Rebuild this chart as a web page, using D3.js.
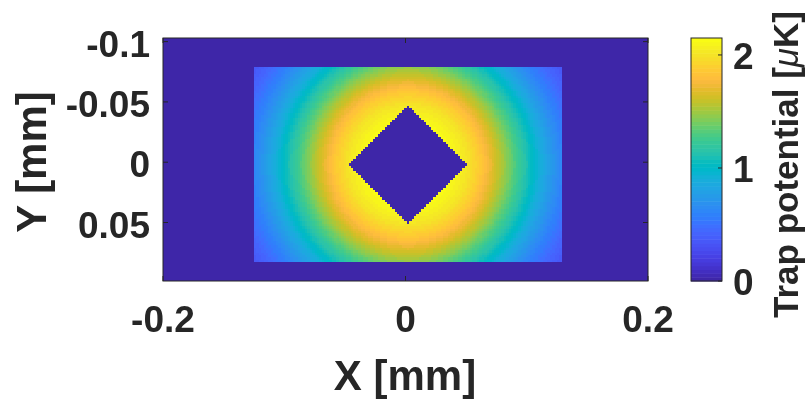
<!DOCTYPE html>
<html>
<head>
<meta charset="utf-8">
<script src="https://cdn.jsdelivr.net/npm/d3@7"></script>
<style>
  html, body { margin: 0; padding: 0; background: #ffffff; }
  #chart { position: relative; width: 805px; height: 401px; overflow: hidden; }
  #chart canvas, #chart svg { position: absolute; left: 0; top: 0; }
  svg text { font-family: "Liberation Sans", Arial, Helvetica, sans-serif; font-weight: bold; fill: #262626; }
</style>
</head>
<body>
<div id="chart"></div>
<script>
// Axis ticks and labels
const xTicks = [-0.2, 0, 0.2];
const xTickLabels = ["-0.2", "0", "0.2"];
const yTicks = [-0.1, -0.05, 0, 0.05];
const yTickLabels = ["-0.1", "-0.05", "0", "0.05"];
const cTicks = [0, 1, 2];
const cTickLabels = ["0", "1", "2"];

// Axis limits (mm) and colour limits (µK)
const xLimits = [-0.2, 0.2];
const yLimits = [-0.103, 0.0985];
const cLimits = [0, 2.15];

// Trap geometry (mm)
const trapCenter = [0.002, 0.002];
const windowX = [-0.1255, 0.1295];
const windowY = [-0.0795, 0.083];
const holeHalfDiagonal = 0.0488;
const gridStep = 0.002;

// Radial potential profile: distance from trap centre (mm) -> potential (µK)
const profileRadius = [0, 0.03, 0.04, 0.05, 0.06, 0.07, 0.08, 0.09, 0.10, 0.11, 0.12, 0.13, 0.14, 0.15, 0.16];
const profileValue  = [2.35, 2.17, 2.10, 2.00, 1.86, 1.68, 1.48, 1.27, 1.07, 0.88, 0.71, 0.56, 0.44, 0.34, 0.26];

// parula colormap, 64 entries
const parula = [
[0.2422,0.1504,0.6603],[0.2504,0.1650,0.7076],[0.2578,0.1818,0.7511],[0.2647,0.1978,0.7952],
[0.2706,0.2147,0.8364],[0.2751,0.2342,0.8710],[0.2783,0.2559,0.8991],[0.2803,0.2782,0.9221],
[0.2813,0.3006,0.9414],[0.2810,0.3228,0.9579],[0.2795,0.3447,0.9717],[0.2760,0.3667,0.9829],
[0.2699,0.3892,0.9906],[0.2602,0.4123,0.9952],[0.2440,0.4358,0.9988],[0.2206,0.4603,0.9973],
[0.1963,0.4847,0.9892],[0.1834,0.5074,0.9798],[0.1786,0.5289,0.9682],[0.1764,0.5499,0.9520],
[0.1687,0.5703,0.9359],[0.1540,0.5902,0.9218],[0.1460,0.6091,0.9079],[0.1380,0.6276,0.8973],
[0.1248,0.6459,0.8883],[0.1113,0.6635,0.8763],[0.0952,0.6798,0.8598],[0.0689,0.6948,0.8394],
[0.0297,0.7082,0.8163],[0.0036,0.7203,0.7917],[0.0067,0.7312,0.7660],[0.0433,0.7411,0.7394],
[0.0964,0.7500,0.7120],[0.1408,0.7584,0.6842],[0.1717,0.7670,0.6554],[0.1938,0.7758,0.6251],
[0.2161,0.7843,0.5923],[0.2470,0.7918,0.5567],[0.2906,0.7973,0.5188],[0.3406,0.8008,0.4789],
[0.3909,0.8029,0.4354],[0.4456,0.8024,0.3909],[0.5044,0.7993,0.3480],[0.5616,0.7942,0.3045],
[0.6174,0.7876,0.2612],[0.6720,0.7793,0.2227],[0.7242,0.7698,0.1910],[0.7738,0.7598,0.1646],
[0.8203,0.7498,0.1535],[0.8634,0.7406,0.1596],[0.9035,0.7330,0.1774],[0.9393,0.7288,0.2100],
[0.9728,0.7298,0.2394],[0.9956,0.7434,0.2371],[0.9970,0.7659,0.2199],[0.9952,0.7893,0.2028],
[0.9892,0.8136,0.1885],[0.9786,0.8386,0.1766],[0.9676,0.8639,0.1643],[0.9610,0.8890,0.1537],
[0.9597,0.9135,0.1423],[0.9628,0.9373,0.1265],[0.9691,0.9606,0.1064],[0.9769,0.9839,0.0805]
].map(c => c.map(v => Math.round(v * 255)));

const W = 805, H = 401;
const plot = { left: 163, right: 648, top: 38, bottom: 281 };
const cbar = { left: 691, right: 722 };
const ink = "#262626";

const x = d3.scaleLinear().domain(xLimits).range([plot.left, plot.right]);
const y = d3.scaleLinear().domain(yLimits).range([plot.top, plot.bottom]);
const cy = d3.scaleLinear().domain(cLimits).range([plot.bottom, plot.top]);
const potentialAt = d3.scaleLinear().domain(profileRadius).range(profileValue).clamp(true);
const colorIndex = d3.scaleQuantize().domain(cLimits).range(d3.range(parula.length));

function potential(xd, yd) {
  const dx = xd - trapCenter[0], dy = yd - trapCenter[1];
  if (xd < windowX[0] || xd > windowX[1] || yd < windowY[0] || yd > windowY[1]) return 0;
  if (Math.abs(dx) + Math.abs(dy) <= holeHalfDiagonal) return 0;
  return potentialAt(Math.hypot(dx, dy));
}
function snap(v, c) { return c + Math.round((v - c) / gridStep) * gridStep; }

const root = d3.select("#chart");
const canvas = root.append("canvas").attr("width", W).attr("height", H).node();
const ctx = canvas.getContext("2d");

// Potential map
const pw = plot.right - plot.left, ph = plot.bottom - plot.top;
const img = ctx.createImageData(pw, ph);
for (let j = 0; j < ph; j++) {
  const yd = snap(y.invert(plot.top + j + 0.5), trapCenter[1]);
  for (let i = 0; i < pw; i++) {
    const xd = snap(x.invert(plot.left + i + 0.5), trapCenter[0]);
    const c = parula[colorIndex(potential(xd, yd))];
    const k = 4 * (j * pw + i);
    img.data[k] = c[0]; img.data[k + 1] = c[1]; img.data[k + 2] = c[2]; img.data[k + 3] = 255;
  }
}
ctx.putImageData(img, plot.left, plot.top);

const svg = root.append("svg").attr("width", W).attr("height", H);

// Axes box and inward ticks
const tickLen = 5;
const axes = svg.append("g").attr("stroke", ink).attr("stroke-width", 1).attr("fill", "none");
axes.append("rect").attr("x", plot.left).attr("y", plot.top).attr("width", pw).attr("height", ph);
xTicks.forEach(t => {
  axes.append("line").attr("x1", x(t)).attr("x2", x(t)).attr("y1", plot.bottom).attr("y2", plot.bottom - tickLen);
  axes.append("line").attr("x1", x(t)).attr("x2", x(t)).attr("y1", plot.top).attr("y2", plot.top + tickLen);
});
yTicks.forEach(t => {
  axes.append("line").attr("x1", plot.left).attr("x2", plot.left + tickLen).attr("y1", y(t)).attr("y2", y(t));
  axes.append("line").attr("x1", plot.right).attr("x2", plot.right - tickLen).attr("y1", y(t)).attr("y2", y(t));
});

const tickFont = 37, labelFont = 42, cLabelFont = 35;
svg.append("g").selectAll("text").data(xTicks).join("text")
  .attr("x", d => x(d)).attr("y", 332)
  .attr("text-anchor", "middle").attr("font-size", tickFont)
  .text((d, i) => xTickLabels[i]);
svg.append("g").selectAll("text").data(yTicks).join("text")
  .attr("x", plot.left - 13).attr("y", d => y(d) + 15)
  .attr("text-anchor", "end").attr("font-size", tickFont)
  .text((d, i) => yTickLabels[i]);

svg.append("text").attr("x", 405).attr("y", 390)
  .attr("text-anchor", "middle").attr("font-size", labelFont).text("X [mm]");
svg.append("text").attr("transform", "translate(46,162) rotate(-90)")
  .attr("text-anchor", "middle").attr("font-size", labelFont).text("Y [mm]");

// Colour bar
const bands = d3.range(parula.length);
const bandH = (cLimits[1] - cLimits[0]) / parula.length;
svg.append("g").selectAll("rect").data(bands).join("rect")
  .attr("x", cbar.left).attr("width", cbar.right - cbar.left)
  .attr("y", d => cy(cLimits[0] + (d + 1) * bandH))
  .attr("height", d => cy(cLimits[0] + d * bandH) - cy(cLimits[0] + (d + 1) * bandH) + 0.5)
  .attr("fill", d => `rgb(${parula[d].join(",")})`);
const cb = svg.append("g").attr("stroke", ink).attr("stroke-width", 1).attr("fill", "none");
cb.append("rect").attr("x", cbar.left).attr("y", plot.top)
  .attr("width", cbar.right - cbar.left).attr("height", ph);
cTicks.forEach(t => {
  cb.append("line").attr("x1", cbar.right).attr("x2", cbar.right - 4).attr("y1", cy(t)).attr("y2", cy(t));
});
svg.append("g").selectAll("text").data(cTicks).join("text")
  .attr("x", cbar.left + 42).attr("y", d => cy(d) + 14)
  .attr("text-anchor", "start").attr("font-size", tickFont)
  .text((d, i) => cTickLabels[i]);

const cLabel = svg.append("text").attr("transform", "translate(798,318) rotate(-90)")
  .attr("text-anchor", "start").attr("font-size", cLabelFont);
cLabel.append("tspan").text("Trap potential [");
cLabel.append("tspan").attr("font-style", "italic").attr("font-weight", "normal").text("μ");
cLabel.append("tspan").text("K]");
</script>
</body>
</html>
